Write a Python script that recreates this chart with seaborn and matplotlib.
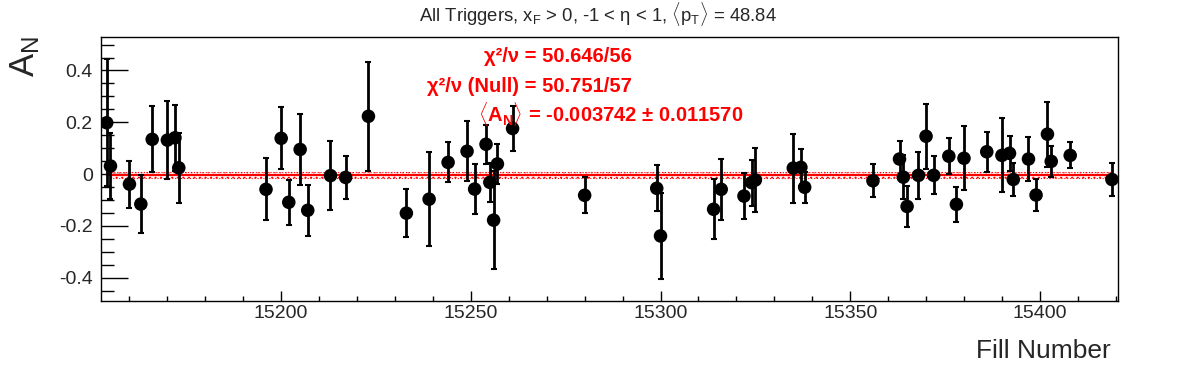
import numpy as np
import pandas as pd
import matplotlib
matplotlib.use("Agg")
import matplotlib.pyplot as plt
import seaborn as sns

# values
fills = [15154, 15155, 15160, 15163, 15166, 15170, 15172, 15173, 15196, 15200,
         15202, 15205, 15207, 15213, 15217, 15223, 15233, 15239, 15244, 15249,
         15251, 15254, 15255, 15256, 15257, 15261, 15280, 15299, 15300, 15314,
         15316, 15322, 15324, 15325, 15335, 15337, 15338, 15356, 15363, 15364,
         15365, 15368, 15370, 15372, 15376, 15378, 15380, 15386, 15390, 15392,
         15393, 15397, 15399, 15402, 15403, 15408, 15419]
an = [0.198, 0.031, -0.039, -0.116, 0.134, 0.131, 0.140, 0.024, -0.059, 0.138,
      -0.109, 0.095, -0.140, -0.006, -0.013, 0.223, -0.151, -0.097, 0.045, 0.088,
      -0.058, 0.115, -0.032, -0.178, 0.039, 0.176, -0.082, -0.055, -0.239, -0.136,
      -0.059, -0.085, -0.033, -0.023, 0.023, 0.026, -0.051, -0.026, 0.058, -0.012,
      -0.125, -0.005, 0.146, -0.005, 0.069, -0.117, 0.061, 0.086, 0.072, 0.080,
      -0.021, 0.058, -0.081, 0.154, 0.049, 0.072, -0.021]
an_err = [0.245, 0.128, 0.091, 0.112, 0.127, 0.151, 0.127, 0.135, 0.120, 0.120,
          0.087, 0.137, 0.098, 0.132, 0.082, 0.211, 0.093, 0.182, 0.077, 0.116,
          0.095, 0.075, 0.076, 0.188, 0.078, 0.086, 0.070, 0.089, 0.165, 0.115,
          0.117, 0.090, 0.089, 0.124, 0.133, 0.072, 0.059, 0.064, 0.070, 0.085,
          0.078, 0.090, 0.125, 0.073, 0.070, 0.068, 0.123, 0.077, 0.143, 0.067,
          0.065, 0.086, 0.062, 0.125, 0.059, 0.050, 0.064]
fit_mean = -0.003742
fit_err = 0.011570

df = pd.DataFrame({"fill": fills, "AN": an, "err": an_err})

sns.set_style("ticks")
plt.rcParams['font.family'] = ['Liberation Sans', 'DejaVu Sans']
plt.rcParams['mathtext.fontset'] = 'custom'
plt.rcParams['mathtext.rm'] = 'Liberation Sans'
plt.rcParams['mathtext.it'] = 'Liberation Sans:italic'
plt.rcParams['mathtext.bf'] = 'Liberation Sans:bold'
plt.rcParams['hatch.linewidth'] = 0.8

fig = plt.figure(figsize=(11.96, 3.72), dpi=100)
ax = fig.add_axes([101 / 1196, 1 - 300.7 / 372, (1118 - 101) / 1196, (300.7 - 37.3) / 372])

# fit band and line
xs = [fills[0], fills[-1]]
ax.fill_between(xs, fit_mean - fit_err, fit_mean + fit_err, facecolor='none',
                edgecolor='red', hatch='...', linewidth=0.8, linestyle=':', zorder=1)
sns.lineplot(x=xs, y=[fit_mean, fit_mean], color='red', linewidth=1.6, ax=ax, zorder=2)

# data
ax.errorbar(df["fill"], df["AN"], yerr=df["err"], fmt='none', ecolor='black',
            elinewidth=2, capsize=2.5, capthick=1.5, zorder=3)
sns.scatterplot(data=df, x="fill", y="AN", color='black', s=95, edgecolor='none',
                ax=ax, zorder=4)

ax.set_xlim(15152.5, 15420.6)
ax.set_ylim(-0.489, 0.528)
ax.set_xticks([15200, 15250, 15300, 15350, 15400])
ax.set_xticks(np.arange(15160, 15421, 10), minor=True)
ax.set_yticks([-0.4, -0.2, 0, 0.2, 0.4])
ax.set_yticklabels(['-0.4', '-0.2', '0', '0.2', '0.4'])
ax.set_yticks(np.arange(-0.45, 0.51, 0.05), minor=True)
ax.tick_params(axis='both', which='both', direction='in', labelsize=14, color='black')
ax.tick_params(axis='y', which='major', length=19.5, width=1, pad=6)
ax.tick_params(axis='y', which='minor', length=9.7, width=1)
ax.tick_params(axis='x', which='major', length=7.2, width=1, pad=3)
ax.tick_params(axis='x', which='minor', length=3.6, width=1)
for sp in ax.spines.values():
    sp.set_visible(True)
    sp.set_linewidth(1)
    sp.set_color('black')
ax.set_xlabel('')
ax.set_ylabel('')

fig.text(1111 / 1196, 1 - 351 / 372, 'Fill Number', fontsize=19, ha='right', va='center')
fig.text(25 / 1196, 1 - 36 / 372, r'$\mathrm{A_{N}}$', fontsize=25, rotation=90,
         ha='center', va='top')
fig.text(0.5, 1 - 14 / 372,
         r'All Triggers, $\mathrm{x_{F}}$ > 0, -1 < η < 1, $\langle\mathrm{p_{T}}\rangle$ = 48.84',
         fontsize=13.3, ha='center', va='center')

red = dict(color='red', fontsize=14.5, fontweight='bold', va='center')
fig.text(632 / 1196, 1 - 56 / 372, 'χ²/ν = 50.646/56', ha='right', **red)
fig.text(632 / 1196, 1 - 86 / 372, 'χ²/ν (Null) = 50.751/57', ha='right', **red)
fig.text(743 / 1196, 1 - 114 / 372,
         r'$\langle\mathbf{A_{N}}\rangle$ = -0.003742 ± 0.011570', ha='right', **red)

fig.savefig("out.png", dpi=100)
